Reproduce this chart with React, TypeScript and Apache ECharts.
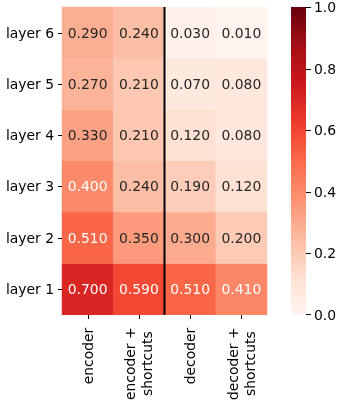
import React, { useEffect, useRef } from "react";
import * as echarts from "echarts";

const xCategories = ["encoder", "encoder +\nshortcuts", "decoder", "decoder +\nshortcuts"];
const yCategories = ["layer 1", "layer 2", "layer 3", "layer 4", "layer 5", "layer 6"];
// values listed from layer 1 to layer 6
const encoder = [0.7, 0.51, 0.4, 0.33, 0.27, 0.29];
const encoderShortcuts = [0.59, 0.35, 0.24, 0.21, 0.21, 0.24];
const decoder = [0.51, 0.3, 0.19, 0.12, 0.07, 0.03];
const decoderShortcuts = [0.41, 0.2, 0.12, 0.08, 0.08, 0.01];
const colorbarTicks = [0, 0.2, 0.4, 0.6, 0.8, 1.0];
const separatorAt = 2; // boundary between column 2 and 3

const reds = ["#fff5f0", "#fee0d2", "#fcbba1", "#fc9272", "#fb6a4a", "#ef3b2c", "#cb181d", "#a50f15", "#67000d"];
const FONT = "DejaVu Sans";
const FS = 13.9;

export default function App() {
  const ref = useRef<HTMLDivElement>(null);
  useEffect(() => {
    if (!ref.current) return;
    const chart = echarts.init(ref.current, undefined, { renderer: "svg" });
    const columns = [encoder, encoderShortcuts, decoder, decoderShortcuts];
    const data: any[] = [];
    columns.forEach((col, xi) => {
      col.forEach((v, yi) => {
        data.push({
          value: [xi, yi, v],
          label: { color: v >= 0.4 ? "#ffffff" : "#262626" },
        });
      });
    });
    const gridL = 62, gridT = 7, gridW = 205, gridH = 308;
    const cbL = 291, cbW = 15;
    const noLine = { show: false, onZero: false };
    chart.setOption({
      animation: false,
      textStyle: { fontFamily: FONT },
      grid: [
        { left: gridL, top: gridT, width: gridW, height: gridH },
        { left: cbL, top: gridT, width: cbW, height: gridH },
      ],
      xAxis: [
        {
          type: "category",
          gridIndex: 0,
          position: "bottom",
          data: xCategories,
          axisLine: noLine,
          axisTick: { show: false },
          axisLabel: {
            rotate: 90,
            color: "#000",
            fontSize: FS,
            fontFamily: FONT,
            margin: 13,
            formatter: (v: string) =>
              v.indexOf("\n") >= 0
                ? v
                    .split("\n")
                    .map((s) => "{c|" + s + "}")
                    .join("\n")
                : v,
            rich: {
              c: { width: 72, align: "center", fontSize: FS, fontFamily: FONT, color: "#000", lineHeight: 17 },
            },
          },
          splitLine: { show: false },
        },
        { type: "value", gridIndex: 0, min: 0, max: 4, show: false, axisLine: noLine },
        { type: "value", gridIndex: 1, min: 0, max: 1, show: false, axisLine: noLine },
      ],
      yAxis: [
        {
          type: "category",
          gridIndex: 0,
          position: "left",
          data: yCategories,
          axisLine: noLine,
          axisTick: { show: false },
          axisLabel: { color: "#000", fontSize: FS, fontFamily: FONT, margin: 8 },
          splitLine: { show: false },
        },
        { type: "value", gridIndex: 0, min: 0, max: 6, show: false, axisLine: noLine },
        {
          type: "value",
          gridIndex: 1,
          position: "right",
          min: 0,
          max: 1,
          interval: 0.2,
          axisLine: noLine,
          axisTick: { show: false },
          axisLabel: {
            color: "#000",
            fontSize: FS,
            fontFamily: FONT,
            margin: 8,
            formatter: (v: number) => (colorbarTicks.some((t) => Math.abs(t - v) < 1e-9) ? v.toFixed(1) : ""),
          },
          splitLine: { show: false },
        },
      ],
      visualMap: {
        type: "continuous",
        seriesIndex: 0,
        min: 0,
        max: 1,
        show: false,
        inRange: { color: reds },
      },
      series: [
        {
          type: "heatmap",
          xAxisIndex: 0,
          yAxisIndex: 0,
          data,
          itemStyle: { borderWidth: 0 },
          label: {
            show: true,
            fontSize: FS,
            fontFamily: FONT,
            formatter: (p: any) => p.value[2].toFixed(3),
          },
          emphasis: { disabled: true },
        },
        {
          type: "line",
          xAxisIndex: 1,
          yAxisIndex: 1,
          data: [
            [separatorAt, 0],
            [separatorAt, 6],
          ],
          symbol: "none",
          lineStyle: { color: "#000", width: 2 },
          silent: true,
        },
      ],
    });

    // tick marks placed through the axes' own pixel conversion
    const px = (v: number) => Math.round(v) + 0.5;
    const graphics: any[] = [
      {
        type: "rect",
        z: 0,
        silent: true,
        shape: { x: cbL, y: gridT, width: cbW, height: gridH },
        style: {
          fill: new echarts.graphic.LinearGradient(
            0,
            1,
            0,
            0,
            reds.map((c, i) => ({ offset: i / (reds.length - 1), color: c }))
          ),
        },
      },
    ];
    const addLine = (x1: number, y1: number, x2: number, y2: number) => {
      if (![x1, y1, x2, y2].every((n) => isFinite(n))) return;
      graphics.push({
        type: "line",
        z: 100,
        silent: true,
        shape: { x1, y1, x2, y2 },
        style: { stroke: "#000000", lineWidth: 1, fill: null },
      });
    };
    yCategories.forEach((_c, i) => {
      const p = chart.convertToPixel({ xAxisIndex: 0, yAxisIndex: 0 }, [0, i]) as any;
      const y = px(p[1]);
      addLine(gridL - 4, y, gridL, y);
    });
    xCategories.forEach((_c, i) => {
      const p = chart.convertToPixel({ xAxisIndex: 0, yAxisIndex: 0 }, [i, 0]) as any;
      const x = px(p[0]);
      addLine(x, gridT + gridH, x, gridT + gridH + 4);
    });
    colorbarTicks.forEach((t) => {
      const p = chart.convertToPixel({ xAxisIndex: 2, yAxisIndex: 2 }, [0, t]) as any;
      const y = Math.min(px(p[1]), gridT + gridH - 0.5);
      addLine(cbL + cbW, y, cbL + cbW + 5, y);
    });
    chart.setOption({ graphic: graphics });
    return () => chart.dispose();
  }, []);
  return <div ref={ref} style={{ position: "fixed", left: 0, top: 0, width: 341, height: 403 }} />;
}
